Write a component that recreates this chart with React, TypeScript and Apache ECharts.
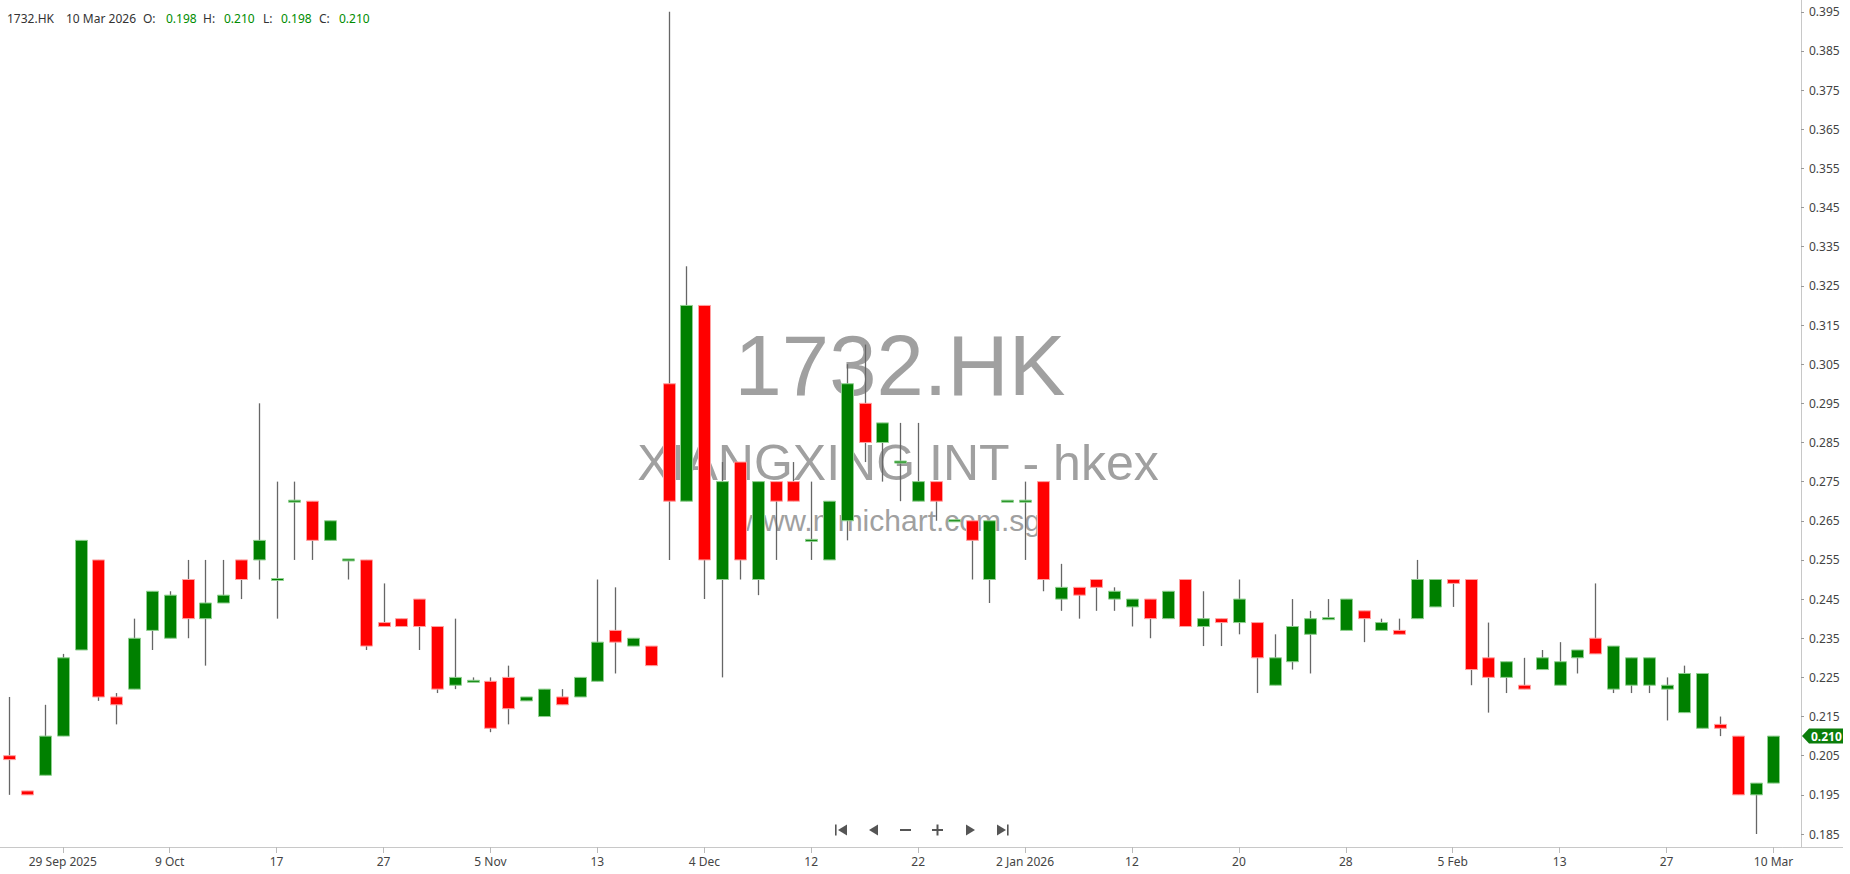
import React, { useEffect, useRef } from 'react';
import * as echarts from 'echarts';

// ---------- DATA ----------
const symbolName = '1732.HK';
const companyName = 'XIANGXING INT - hkex';
const siteName = 'www.mmichart.com.sg';

const dates = [
  '2025-09-24', '2025-09-25', '2025-09-26', '2025-09-29', '2025-09-30', '2025-10-02', '2025-10-03', '2025-10-06', '2025-10-08', '2025-10-09',
  '2025-10-10', '2025-10-13', '2025-10-14', '2025-10-15', '2025-10-16', '2025-10-17', '2025-10-20', '2025-10-21', '2025-10-22', '2025-10-23',
  '2025-10-24', '2025-10-27', '2025-10-28', '2025-10-30', '2025-10-31', '2025-11-03', '2025-11-04', '2025-11-05', '2025-11-06', '2025-11-07',
  '2025-11-10', '2025-11-11', '2025-11-12', '2025-11-13', '2025-11-14', '2025-11-19', '2025-11-25', '2025-12-02', '2025-12-03', '2025-12-04',
  '2025-12-05', '2025-12-08', '2025-12-09', '2025-12-10', '2025-12-11', '2025-12-12', '2025-12-15', '2025-12-16', '2025-12-17', '2025-12-18',
  '2025-12-19', '2025-12-22', '2025-12-23', '2025-12-24', '2025-12-29', '2025-12-30', '2025-12-31', '2026-01-02', '2026-01-05', '2026-01-06',
  '2026-01-07', '2026-01-08', '2026-01-09', '2026-01-12', '2026-01-13', '2026-01-14', '2026-01-15', '2026-01-16', '2026-01-19', '2026-01-20',
  '2026-01-21', '2026-01-22', '2026-01-23', '2026-01-26', '2026-01-27', '2026-01-28', '2026-01-29', '2026-01-30', '2026-02-02', '2026-02-03',
  '2026-02-04', '2026-02-05', '2026-02-06', '2026-02-09', '2026-02-10', '2026-02-11', '2026-02-12', '2026-02-13', '2026-02-16', '2026-02-20',
  '2026-02-23', '2026-02-24', '2026-02-25', '2026-02-27', '2026-03-02', '2026-03-03', '2026-03-04', '2026-03-05', '2026-03-09', '2026-03-10',
];

const open = [
  0.205, 0.196, 0.200, 0.210, 0.232, 0.255, 0.220, 0.222, 0.237, 0.235,
  0.250, 0.240, 0.244, 0.255, 0.255, 0.250, 0.270, 0.270, 0.260, 0.255,
  0.255, 0.239, 0.240, 0.245, 0.238, 0.223, 0.224, 0.224, 0.225, 0.219,
  0.215, 0.220, 0.220, 0.224, 0.237, 0.233, 0.233, 0.300, 0.270, 0.320,
  0.250, 0.280, 0.250, 0.275, 0.275, 0.260, 0.255, 0.265, 0.295, 0.285,
  0.280, 0.270, 0.275, 0.265, 0.265, 0.250, 0.270, 0.270, 0.275, 0.245,
  0.248, 0.250, 0.245, 0.243, 0.245, 0.240, 0.250, 0.238, 0.240, 0.239,
  0.239, 0.223, 0.229, 0.236, 0.240, 0.237, 0.242, 0.237, 0.237, 0.240,
  0.243, 0.250, 0.250, 0.230, 0.225, 0.223, 0.227, 0.223, 0.230, 0.235,
  0.222, 0.223, 0.223, 0.222, 0.216, 0.212, 0.213, 0.210, 0.195, 0.198,
];

const high = [
  0.220, 0.196, 0.218, 0.231, 0.260, 0.255, 0.221, 0.240, 0.247, 0.247,
  0.255, 0.255, 0.255, 0.255, 0.295, 0.275, 0.275, 0.270, 0.265, 0.255,
  0.255, 0.249, 0.240, 0.245, 0.238, 0.240, 0.225, 0.225, 0.228, 0.220,
  0.222, 0.222, 0.225, 0.250, 0.248, 0.235, 0.233, 0.395, 0.330, 0.320,
  0.280, 0.280, 0.275, 0.275, 0.280, 0.275, 0.270, 0.305, 0.310, 0.290,
  0.290, 0.290, 0.275, 0.265, 0.265, 0.265, 0.270, 0.275, 0.275, 0.254,
  0.248, 0.250, 0.248, 0.245, 0.245, 0.247, 0.250, 0.247, 0.240, 0.250,
  0.239, 0.236, 0.245, 0.242, 0.245, 0.245, 0.242, 0.240, 0.240, 0.255,
  0.250, 0.250, 0.250, 0.239, 0.229, 0.230, 0.232, 0.234, 0.232, 0.249,
  0.233, 0.230, 0.230, 0.225, 0.228, 0.226, 0.215, 0.210, 0.198, 0.210,
];

const low = [
  0.195, 0.195, 0.200, 0.210, 0.232, 0.219, 0.213, 0.222, 0.232, 0.235,
  0.235, 0.228, 0.244, 0.245, 0.250, 0.240, 0.255, 0.255, 0.260, 0.250,
  0.232, 0.238, 0.238, 0.232, 0.221, 0.222, 0.224, 0.211, 0.213, 0.219,
  0.215, 0.218, 0.220, 0.224, 0.226, 0.233, 0.228, 0.255, 0.270, 0.245,
  0.225, 0.250, 0.246, 0.255, 0.270, 0.255, 0.255, 0.260, 0.280, 0.275,
  0.270, 0.270, 0.265, 0.265, 0.250, 0.244, 0.270, 0.255, 0.247, 0.242,
  0.240, 0.242, 0.242, 0.238, 0.235, 0.240, 0.238, 0.233, 0.233, 0.236,
  0.221, 0.223, 0.227, 0.226, 0.240, 0.237, 0.234, 0.237, 0.236, 0.240,
  0.243, 0.243, 0.223, 0.216, 0.221, 0.222, 0.227, 0.223, 0.226, 0.231,
  0.221, 0.221, 0.221, 0.214, 0.216, 0.212, 0.210, 0.195, 0.185, 0.198,
];

const close = [
  0.204, 0.195, 0.210, 0.230, 0.260, 0.220, 0.218, 0.235, 0.247, 0.246,
  0.240, 0.244, 0.246, 0.250, 0.260, 0.250, 0.270, 0.260, 0.265, 0.255,
  0.233, 0.238, 0.238, 0.238, 0.222, 0.225, 0.224, 0.212, 0.217, 0.220,
  0.222, 0.218, 0.225, 0.234, 0.234, 0.235, 0.228, 0.270, 0.320, 0.255,
  0.275, 0.255, 0.275, 0.270, 0.270, 0.260, 0.270, 0.300, 0.285, 0.290,
  0.280, 0.275, 0.270, 0.265, 0.260, 0.265, 0.270, 0.270, 0.250, 0.248,
  0.246, 0.248, 0.247, 0.245, 0.240, 0.247, 0.238, 0.240, 0.239, 0.245,
  0.230, 0.230, 0.238, 0.240, 0.240, 0.245, 0.240, 0.239, 0.236, 0.250,
  0.250, 0.249, 0.227, 0.225, 0.229, 0.222, 0.230, 0.229, 0.232, 0.231,
  0.233, 0.230, 0.230, 0.223, 0.226, 0.226, 0.212, 0.195, 0.198, 0.210,
];

const tickDates = [
  '2025-09-29', '2025-10-09', '2025-10-17', '2025-10-27', '2025-11-05', '2025-11-13', '2025-12-04', '2025-12-12', '2025-12-22',
  '2026-01-02', '2026-01-12', '2026-01-20', '2026-01-28', '2026-02-05', '2026-02-13', '2026-02-27', '2026-03-10',
];
const tickLabels = [
  '29 Sep 2025', '9 Oct', '17', '27', '5 Nov', '13', '4 Dec', '12', '22',
  '2 Jan 2026', '12', '20', '28', '5 Feb', '13', '27', '10 Mar',
];

const yTicks = [
  0.185, 0.195, 0.205, 0.215, 0.225, 0.235, 0.245, 0.255, 0.265, 0.275, 0.285,
  0.295, 0.305, 0.315, 0.325, 0.335, 0.345, 0.355, 0.365, 0.375, 0.385, 0.395,
];
const Y_MIN = 0.18168;
const Y_MAX = 0.39801;

const MONTHS = ['Jan', 'Feb', 'Mar', 'Apr', 'May', 'Jun', 'Jul', 'Aug', 'Sep', 'Oct', 'Nov', 'Dec'];

// ---------- LAYOUT / STYLE ----------
const W = 1850;
const H = 874;
const GRID_LEFT = 0.4;
const GRID_WIDTH = 1782;
const GRID_HEIGHT = 847;
const Y_OFFSET = 18.6;
const UP = '#008000';
const DOWN = '#ff0000';
const UP_EDGE = '#8fcf8f';
const DOWN_EDGE = '#ffa0a0';
const WICK = '#666666';
const FONT = '"Noto Sans", sans-serif';
const WM = '#a0a0a0';
const NAV = '#555555';

function fmtDate(d: string) {
  const [y, m, day] = d.split('-');
  return `${parseInt(day, 10)} ${MONTHS[parseInt(m, 10) - 1]} ${y}`;
}

export default function App() {
  const ref = useRef<HTMLDivElement>(null);

  useEffect(() => {
    if (!ref.current) return;
    const chart = echarts.init(ref.current, null, { renderer: 'svg' });

    const labelMap: Record<string, string> = {};
    tickDates.forEach((d, k) => (labelMap[d] = tickLabels[k]));
    const tickIdx = new Set<number>();
    dates.forEach((d, i) => {
      if (labelMap[d] !== undefined) tickIdx.add(i);
    });

    const candleData = dates.map((_, i) => [i, open[i], close[i], low[i], high[i]]);
    const last = dates.length - 1;

    const headerParts: { t: string; x: number; c: string }[] = [
      { t: symbolName, x: 7, c: '#333' },
      { t: fmtDate(dates[last]), x: 66, c: '#333' },
      { t: 'O:', x: 143, c: '#333' },
      { t: open[last].toFixed(3), x: 166, c: '#008c00' },
      { t: 'H:', x: 203, c: '#333' },
      { t: high[last].toFixed(3), x: 224, c: '#008c00' },
      { t: 'L:', x: 263, c: '#333' },
      { t: low[last].toFixed(3), x: 281, c: '#008c00' },
      { t: 'C:', x: 319, c: '#333' },
      { t: close[last].toFixed(3), x: 339, c: '#008c00' },
    ];

    const navY = 830;
    const nav: any[] = [
      { type: 'rect', shape: { x: 835, y: navY - 5.5, width: 1.6, height: 11 }, style: { fill: NAV } },
      { type: 'polygon', shape: { points: [[838, navY], [847, navY - 5.5], [847, navY + 5.5]] }, style: { fill: NAV } },
      { type: 'polygon', shape: { points: [[869, navY], [878, navY - 5.5], [878, navY + 5.5]] }, style: { fill: NAV } },
      { type: 'rect', shape: { x: 900, y: navY - 1, width: 11, height: 2 }, style: { fill: NAV } },
      { type: 'rect', shape: { x: 932, y: navY - 1, width: 11, height: 2 }, style: { fill: NAV } },
      { type: 'rect', shape: { x: 936.5, y: navY - 5.5, width: 2, height: 11 }, style: { fill: NAV } },
      { type: 'polygon', shape: { points: [[975, navY], [966, navY - 5.5], [966, navY + 5.5]] }, style: { fill: NAV } },
      { type: 'polygon', shape: { points: [[1006, navY], [997, navY - 5.5], [997, navY + 5.5]] }, style: { fill: NAV } },
      { type: 'rect', shape: { x: 1007, y: navY - 5.5, width: 1.6, height: 11 }, style: { fill: NAV } },
    ];

    const option: any = {
      animation: false,
      backgroundColor: '#ffffff',
      grid: {
        left: GRID_LEFT,
        top: 0,
        width: GRID_WIDTH,
        height: GRID_HEIGHT,
        containLabel: false,
        outerBoundsMode: 'none',
      },
      xAxis: {
        type: 'category',
        data: dates,
        boundaryGap: true,
        axisLine: { show: true, lineStyle: { color: '#c8c8c8', width: 1 } },
        axisTick: {
          show: true,
          alignWithLabel: true,
          interval: (i: number) => tickIdx.has(i),
          length: 6,
          lineStyle: { color: '#bbbbbb' },
        },
        axisLabel: {
          interval: (i: number) => tickIdx.has(i),
          formatter: (v: string) => labelMap[v] ?? '',
          color: '#444',
          fontSize: 12,
          fontFamily: FONT,
          margin: 8,
        },
        splitLine: { show: false },
      },
      yAxis: {
        type: 'value',
        position: 'right',
        offset: Y_OFFSET,
        min: Y_MIN,
        max: Y_MAX,
        scale: true,
        splitLine: { show: false },
        axisLine: { show: true, lineStyle: { color: '#c8c8c8', width: 1 } },
        axisTick: { show: true, length: 3, lineStyle: { color: '#999' }, customValues: yTicks },
        axisLabel: {
          customValues: yTicks,
          formatter: (v: number) => v.toFixed(3),
          color: '#444',
          fontSize: 12,
          fontFamily: FONT,
          margin: 8,
        },
      },
      graphic: [
        { type: 'text', z: 0, style: { text: symbolName, x: 900, y: 365, align: 'center', verticalAlign: 'middle', fill: WM, fontSize: 85, fontFamily: '"Liberation Sans", Arial, sans-serif' } },
        { type: 'text', z: 0, style: { text: companyName, x: 898, y: 463, align: 'center', verticalAlign: 'middle', fill: WM, fontSize: 50, fontFamily: '"Liberation Sans", Arial, sans-serif' } },
        { type: 'text', z: 0, style: { text: siteName, x: 891, y: 520, align: 'center', verticalAlign: 'middle', fill: WM, fontSize: 30, fontFamily: '"Liberation Sans", Arial, sans-serif' } },
        ...headerParts.map((p) => ({
          type: 'text',
          z: 100,
          style: { text: p.t, x: p.x, y: 18, verticalAlign: 'middle', fill: p.c, fontSize: 12, fontFamily: FONT },
        })),
        { type: 'line', z: 1, shape: { x1: GRID_LEFT + GRID_WIDTH, y1: GRID_HEIGHT + 0.5, x2: 1843, y2: GRID_HEIGHT + 0.5 }, style: { stroke: '#c8c8c8', lineWidth: 1 } },
        ...nav.map((n) => ({ ...n, z: 100 })),
      ],
      series: [
        {
          type: 'custom',
          name: symbolName,
          data: candleData,
          encode: { x: 0, y: [1, 2, 3, 4] },
          z: 2,
          renderItem: (params: any, api: any) => {
            const i = api.value(0);
            const o = api.value(1);
            const c = api.value(2);
            const l = api.value(3);
            const h = api.value(4);
            const pO = api.coord([i, o]);
            const pC = api.coord([i, c]);
            const pL = api.coord([i, l]);
            const pH = api.coord([i, h]);
            const x = Math.round(pO[0]) + 0.5;
            const slot = api.size([1, 0])[0];
            const bw = Math.round(slot * 0.7);
            const up = c >= o;
            let top = Math.min(pO[1], pC[1]);
            let bot = Math.max(pO[1], pC[1]);
            if (bot - top < 2) {
              const m = (top + bot) / 2;
              top = m - 1;
              bot = m + 1;
            }
            return {
              type: 'group',
              children: [
                {
                  type: 'line',
                  shape: { x1: x, y1: pH[1], x2: x, y2: pL[1] },
                  style: { stroke: WICK, lineWidth: 1.3 },
                },
                {
                  type: 'rect',
                  shape: { x: x - bw / 2, y: top, width: bw, height: bot - top },
                  style: { fill: up ? UP : DOWN, stroke: up ? UP_EDGE : DOWN_EDGE, lineWidth: 1 },
                },
              ],
            };
          },
        },
        {
          type: 'custom',
          name: 'last',
          clip: false,
          z: 10,
          data: [[last, close[last]]],
          encode: { x: 0, y: 1 },
          renderItem: (params: any, api: any) => {
            const p = api.coord([api.value(0), api.value(1)]);
            const ax = params.coordSys.x + params.coordSys.width + Y_OFFSET;
            const y = p[1];
            return {
              type: 'group',
              children: [
                {
                  type: 'polygon',
                  shape: { points: [[ax + 1, y], [ax + 8, y - 7.5], [ax + 42, y - 7.5], [ax + 42, y + 7.5], [ax + 8, y + 7.5]] },
                  style: { fill: '#0b7d0b' },
                },
                {
                  type: 'text',
                  style: {
                    text: api.value(1).toFixed(3),
                    x: ax + 10,
                    y: y,
                    verticalAlign: 'middle',
                    fill: '#ffffff',
                    fontSize: 12,
                    fontWeight: 'bold',
                    fontFamily: FONT,
                  },
                },
              ],
            };
          },
        },
      ],
    };

    chart.setOption(option);
    return () => chart.dispose();
  }, []);

  return (
    <div
      ref={ref}
      style={{ position: 'absolute', left: 0, top: 0, width: W, height: H, background: '#fff' }}
    />
  );
}
